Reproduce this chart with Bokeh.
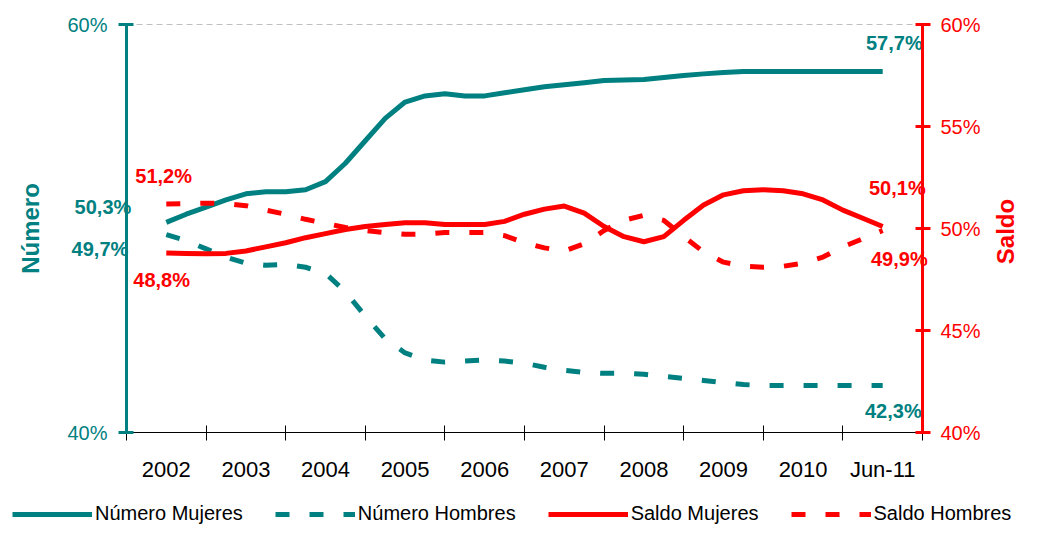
import math
from bokeh.plotting import figure
from bokeh.models import (Range1d, LinearAxis, FixedTicker, Legend, LegendItem)
from bokeh.core.properties import value
from bokeh.embed import file_html
from bokeh.resources import INLINE

# ---------------- data ----------------
categories = ["2002", "2003", "2004", "2005", "2006", "2007", "2008", "2009", "2010", "Jun-11"]
cat_pos = [0.5, 1.5, 2.5, 3.5, 4.5, 5.5, 6.5, 7.5, 8.5, 9.5]
boundaries = [0, 1, 2, 3, 4, 5, 6, 7, 8, 9, 10]

# quarterly sample positions (2002 .. Jun-11, category centres at x.5)
periods = [0.5, 0.75, 1.0, 1.25, 1.5, 1.75, 2.0, 2.25, 2.5, 2.75, 3.0, 3.25, 3.5,
           3.75, 4.0, 4.25, 4.5, 4.75, 5.0, 5.25, 5.5, 5.75, 6.0, 6.25, 6.5, 6.75,
           7.0, 7.25, 7.5, 7.75, 8.0, 8.25, 8.5, 8.75, 9.0, 9.25, 9.5]

numero_mujeres = [50.3, 50.7, 51.05, 51.4, 51.7, 51.8, 51.8, 51.9, 52.3, 53.2, 54.3, 55.4, 56.2,
                  56.5, 56.6, 56.5, 56.5, 56.65, 56.8, 56.95, 57.05, 57.15, 57.25, 57.28, 57.3,
                  57.4, 57.5, 57.58, 57.65, 57.7, 57.7, 57.7, 57.7, 57.7, 57.7, 57.7, 57.7]
numero_hombres = [49.7, 49.4, 49.0, 48.6, 48.3, 48.2, 48.25, 48.1, 47.8, 46.9, 45.7, 44.6, 43.9,
                  43.55, 43.45, 43.5, 43.55, 43.5, 43.4, 43.2, 43.05, 42.95, 42.9, 42.9, 42.85,
                  42.75, 42.65, 42.55, 42.45, 42.35, 42.3, 42.3, 42.3, 42.3, 42.3, 42.3, 42.3]
saldo_mujeres = [48.8, 48.78, 48.76, 48.78, 48.9, 49.1, 49.3, 49.55, 49.75, 49.95, 50.1, 50.2, 50.28,
                 50.28, 50.2, 50.2, 50.2, 50.35, 50.7, 50.95, 51.1, 50.75, 50.1, 49.6, 49.35,
                 49.6, 50.4, 51.15, 51.65, 51.85, 51.9, 51.85, 51.7, 51.4, 50.9, 50.5, 50.1]
saldo_hombres = [51.2, 51.22, 51.24, 51.22, 51.12, 50.9, 50.7, 50.45, 50.25, 50.05, 49.9, 49.8, 49.72,
                 49.72, 49.8, 49.8, 49.8, 49.65, 49.3, 49.05, 48.9, 49.25, 49.9, 50.4, 50.65,
                 50.4, 49.6, 48.85, 48.35, 48.15, 48.1, 48.15, 48.3, 48.6, 49.1, 49.5, 49.9]

left_ticks = [40, 60]
right_ticks = [40, 45, 50, 55, 60]
right_title = "Saldo"

TEAL = "#008080"
RED = "#FF0000"
FONT = "Liberation Sans"

# ---------------- layout (pixels) ----------------
W, H = 1031, 525
PX_L, PX_R, PX_T, PX_B = 126, 922, 24, 432
X0, X1, Y0, Y1 = 0, 10, 40, 60
xs = X0 - PX_L * (X1 - X0) / (PX_R - PX_L)
xe = xs + W * (X1 - X0) / (PX_R - PX_L)
ye = Y1 + PX_T * (Y1 - Y0) / (PX_B - PX_T)
ys = ye - H * (Y1 - Y0) / (PX_B - PX_T)


def pct(v):
    return f"{v:.1f}%".replace(".", ",")


p = figure(width=W, height=H, x_range=Range1d(xs, xe), y_range=Range1d(ys, ye),
           output_backend="svg", toolbar_location=None,
           x_axis_location=None, y_axis_location=None,
           min_border_left=0, min_border_right=0, min_border_top=0, min_border_bottom=0)
p.extra_y_ranges = {"saldo": Range1d(ys, ye)}
p.outline_line_color = None
p.grid.visible = False
p.background_fill_color = "white"

# top gridline (60%)
p.segment(x0=[X0], y0=[Y1], x1=[X1], y1=[Y1], line_color="#BFBFBF", line_width=1,
          line_dash="6 4")

# x axis
xaxis = LinearAxis(ticker=FixedTicker(ticks=cat_pos, minor_ticks=boundaries),
                   fixed_location=Y0, bounds=(X0, X1),
                   major_label_overrides={pos: c for pos, c in zip(cat_pos, categories)},
                   axis_line_color="black", axis_line_width=1,
                   major_tick_line_color=None, major_tick_in=0, major_tick_out=0,
                   minor_tick_line_color="black", minor_tick_in=7, minor_tick_out=8,
                   major_label_standoff=16,
                   major_label_text_font=FONT, major_label_text_font_size="22px",
                   major_label_text_color="black")
p.add_layout(xaxis, "below")

# left axis
laxis = LinearAxis(ticker=FixedTicker(ticks=left_ticks, minor_ticks=[]),
                   fixed_location=X0, bounds=(Y0, Y1),
                   major_label_overrides={t: f"{t}%" for t in left_ticks},
                   axis_line_color=TEAL, axis_line_width=3,
                   major_tick_line_color=TEAL, major_tick_line_width=3,
                   major_tick_in=7, major_tick_out=8,
                   major_label_standoff=11,
                   major_label_text_font=FONT, major_label_text_font_size="20px",
                   major_label_text_color=TEAL,
                   axis_label="Número", axis_label_text_font=FONT,
                   axis_label_text_font_size="24px", axis_label_text_font_style="bold",
                   axis_label_text_color=TEAL, axis_label_standoff=20)
p.add_layout(laxis, "left")

# right axis
raxis = LinearAxis(y_range_name="saldo",
                   ticker=FixedTicker(ticks=right_ticks, minor_ticks=[]),
                   fixed_location=X1, bounds=(Y0, Y1),
                   major_label_overrides={t: f"{t}%" for t in right_ticks},
                   axis_line_color=RED, axis_line_width=3,
                   major_tick_line_color=RED, major_tick_line_width=3,
                   major_tick_in=7, major_tick_out=8,
                   major_label_standoff=10,
                   major_label_text_font=FONT, major_label_text_font_size="20px",
                   major_label_text_color=RED)
p.add_layout(raxis, "right")

# right axis title, reading bottom-to-top like the left one
p.text(x=[X1], y=[(Y0 + Y1) / 2], text=[right_title], angle=math.pi / 2,
       x_offset=83, y_offset=3, y_range_name="saldo",
       text_color=RED, text_font=value(FONT), text_font_size="24px", text_font_style="bold",
       text_align="center", text_baseline="middle")

# lines
r_nm = p.line(periods, numero_mujeres, line_color=TEAL, line_width=5, line_join="round")
r_nh = p.line(periods, numero_hombres, line_color=TEAL, line_width=5, line_dash="14 20")
r_sm = p.line(periods, saldo_mujeres, line_color=RED, line_width=5, line_join="round",
              y_range_name="saldo")
r_sh = p.line(periods, saldo_hombres, line_color=RED, line_width=5, line_dash="14 20",
              y_range_name="saldo")

# data labels
first, last = periods[0], periods[-1]
p.text(x=[first, first, last, last],
       y=[numero_mujeres[0], numero_hombres[0], numero_mujeres[-1], numero_hombres[-1]],
       text=[pct(numero_mujeres[0]), pct(numero_hombres[0]), pct(numero_mujeres[-1]), pct(numero_hombres[-1])],
       x_offset=[-35, -38, 40, 39], y_offset=[-15, 14, -28, 25],
       text_color=TEAL, text_font=value(FONT), text_font_size="20px", text_font_style="bold",
       text_align="right", text_baseline="middle")
p.text(x=[first, first],
       y=[saldo_mujeres[0], saldo_hombres[0]],
       text=[pct(saldo_mujeres[0]), pct(saldo_hombres[0])],
       x_offset=[-33, -31], y_offset=[27, -28],
       text_color=RED, text_font=value(FONT), text_font_size="20px", text_font_style="bold",
       text_align="left", text_baseline="middle", y_range_name="saldo")
p.text(x=[last, last],
       y=[saldo_mujeres[-1], saldo_hombres[-1]],
       text=[pct(saldo_mujeres[-1]), pct(saldo_hombres[-1])],
       x_offset=[43, 45], y_offset=[-38, 28],
       text_color=RED, text_font=value(FONT), text_font_size="20px", text_font_style="bold",
       text_align="right", text_baseline="middle", y_range_name="saldo")

legend = Legend(items=[LegendItem(label="Número Mujeres", renderers=[r_nm]),
                       LegendItem(label="Número Hombres", renderers=[r_nh]),
                       LegendItem(label="Saldo Mujeres", renderers=[r_sm]),
                       LegendItem(label="Saldo Hombres", renderers=[r_sh])],
                orientation="horizontal", location=(12, 0),
                glyph_width=80, glyph_height=22, label_height=22, label_standoff=3,
                spacing=32, padding=0, margin=0,
                border_line_color=None, background_fill_alpha=0,
                label_text_font=FONT, label_text_font_size="20px", label_text_color="black")
p.add_layout(legend)

open("out.html", "w").write(file_html(p, INLINE))
